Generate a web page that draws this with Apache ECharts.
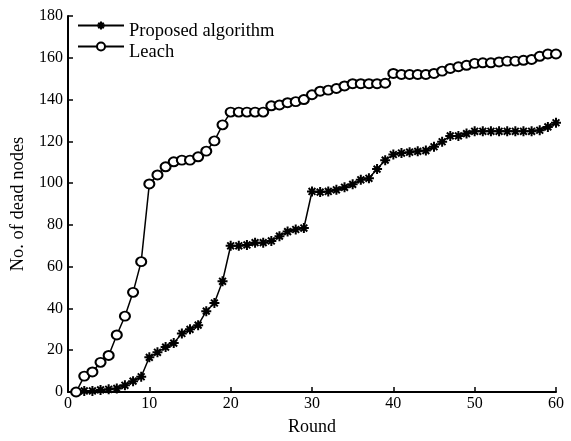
<!DOCTYPE html>
<html>
<head>
<meta charset="utf-8">
<script src="https://cdn.jsdelivr.net/npm/echarts@6/dist/echarts.min.js"></script>
<style>html,body{margin:0;padding:0;background:#fff}#c{width:571px;height:441px}</style>
</head>
<body>
<div id="c"></div>
<script>
var rounds = [1,2,3,4,5,6,7,8,9,10,11,12,13,14,15,16,17,18,19,20,21,22,23,24,25,26,27,28,29,30,31,32,33,34,35,36,37,38,39,40,41,42,43,44,45,46,47,48,49,50,51,52,53,54,55,56,57,58,59,60];
var proposed = [0,0.5,0.5,1,1.3,1.7,3.2,5.2,7.3,16.6,19,21.5,23.4,28,30,32,38.7,42.6,53,70,70,70.4,71.5,71.5,72.3,74.6,76.8,77.8,78.5,96,95.7,96,96.8,98,99.4,101.6,102.3,106.7,111,113.7,114.4,114.8,115.2,115.6,117.4,119.8,122.6,122.6,123.7,124.8,124.8,124.8,124.8,124.8,124.8,124.8,124.8,125.3,126.9,128.9];
var leach = [0,7.6,9.6,14.2,17.5,27.3,36.3,47.7,62.4,99.6,103.9,107.8,110.2,111,111,112.6,115.3,120.2,127.9,134,134,134,134,134,137,137.4,138.5,139,140,142.3,144,144.5,145.3,146.5,147.6,147.6,147.6,147.6,147.8,152.5,152,152,152,152,152.5,153.6,154.9,155.7,156.4,157.3,157.6,157.6,158,158.4,158.4,158.8,159.2,160.7,161.8,161.8];
var seriesNames = ['Proposed algorithm', 'Leach'];
var xLabel = 'Round';
var yLabel = 'No. of dead nodes';

function pairs(xs, ys){ return xs.map(function(x,i){ return [x, ys[i]]; }); }

var FONT = 'Liberation Serif';
var chart = echarts.init(document.getElementById('c'), null, {renderer:'canvas'});
var star = 'path://M5,0L5,10M0,5L10,5M1.6,1.6L8.4,8.4M1.6,8.4L8.4,1.6';
function legendFor(name, top){
  return {
    orient: 'vertical', left: 77, top: top, padding: 0,
    itemWidth: 46, itemHeight: 10,
    formatter: function(n){ return '{a|' + n + '}'; },
    textStyle: {fontFamily: FONT, fontSize: 18.5, color: '#000',
      rich: {a: {fontFamily: FONT, fontSize: 18.5, color: '#000', lineHeight: 18, padding: [12,0,0,0]}}},
    data: [name]
  };
}
chart.setOption({
  animation: false,
  backgroundColor: '#fff',
  grid: {left: 68, right: 15, top: 16, bottom: 45, containLabel: false},
  legend: [legendFor(seriesNames[0], 10), legendFor(seriesNames[1], 31)],
  xAxis: {
    type: 'value', min: 0, max: 60, interval: 10,
    name: xLabel, nameLocation: 'middle', nameGap: 26,
    nameTextStyle: {fontFamily: FONT, fontSize: 18, color: '#000'},
    axisLine: {lineStyle: {color: '#000', width: 2}},
    axisTick: {inside: true, length: 5, lineStyle: {color: '#000', width: 1.5}},
    axisLabel: {fontFamily: FONT, fontSize: 16, color: '#000', margin: 4},
    splitLine: {show: false}
  },
  yAxis: {
    type: 'value', min: 0, max: 180, interval: 20,
    name: yLabel, nameLocation: 'middle', nameGap: 40,
    nameTextStyle: {fontFamily: FONT, fontSize: 18.5, color: '#000'},
    axisLine: {show: true, lineStyle: {color: '#000', width: 2}},
    axisTick: {show: true, inside: true, length: 5, lineStyle: {color: '#000', width: 1.5}},
    axisLabel: {fontFamily: FONT, fontSize: 16, color: '#000', margin: 5},
    splitLine: {show: false}
  },
  series: [
    {
      name: seriesNames[0], type: 'line', data: pairs(rounds, proposed),
      symbol: star, symbolSize: 10, showAllSymbol: true,
      lineStyle: {color: '#000', width: 1.5},
      itemStyle: {color: '#000', borderColor: '#000', borderWidth: 2}
    },
    {
      name: seriesNames[1], type: 'line', data: pairs(rounds, leach),
      symbol: 'emptyCircle', symbolSize: [10, 9], showAllSymbol: true,
      lineStyle: {color: '#000', width: 1.5},
      itemStyle: {color: '#000', borderColor: '#000', borderWidth: 1.5}
    }
  ]
});
</script>
</body>
</html>
